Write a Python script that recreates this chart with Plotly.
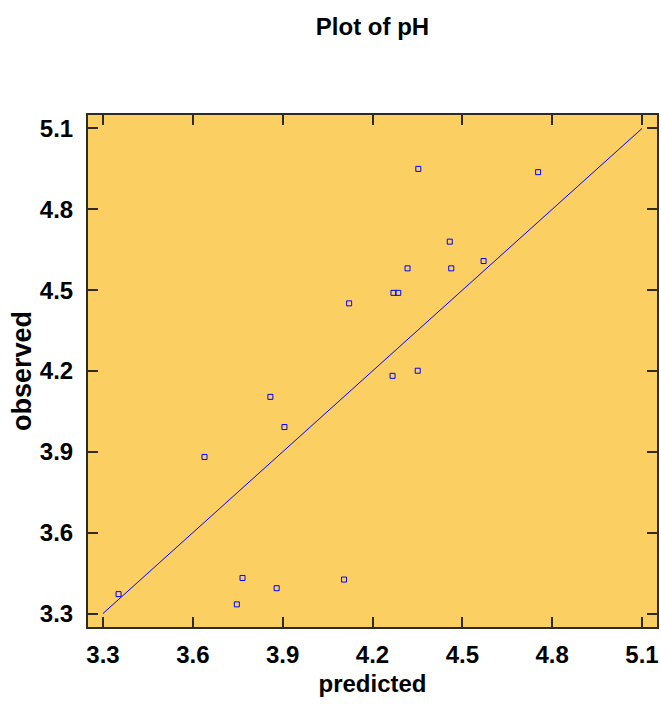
import plotly.graph_objects as go

# Observed vs predicted pH
predicted = [3.352, 3.639, 3.747, 3.766, 3.880, 3.859, 3.906, 4.105, 4.122,
             4.270, 4.286, 4.267, 4.317, 4.351, 4.353, 4.458, 4.463, 4.571, 4.753]
observed = [3.372, 3.881, 3.334, 3.432, 3.394, 4.104, 3.992, 3.426, 4.451,
            4.490, 4.490, 4.182, 4.581, 4.201, 4.950, 4.680, 4.581, 4.608, 4.938]

# reference line y = x
ref_x = [3.3, 5.1]
ref_y = [3.3, 5.1]

tick_vals = [3.3, 3.6, 3.9, 4.2, 4.5, 4.8, 5.1]
tick_text = ["3.3", "3.6", "3.9", "4.2", "4.5", "4.8", "5.1"]

FONT = "Liberation Sans, Arial, sans-serif"
AXIS_COLOR = "#2e2b22"

fig = go.Figure()
fig.add_trace(go.Scatter(
    x=ref_x, y=ref_y, mode="lines",
    line=dict(color="#0000ff", width=1),
    showlegend=False, hoverinfo="skip",
))
fig.add_trace(go.Scatter(
    x=predicted, y=observed, mode="markers",
    marker=dict(symbol="square-open", size=5, color="#0000ff",
                line=dict(width=1, color="#0000ff")),
    showlegend=False,
))

axis_common = dict(
    range=[3.25, 5.15],
    tickmode="array",
    tickvals=tick_vals,
    ticktext=tick_text,
    ticks="inside",
    ticklen=10,
    tickwidth=2,
    tickcolor=AXIS_COLOR,
    showline=True,
    linewidth=2,
    linecolor=AXIS_COLOR,
    mirror="ticks",
    showgrid=False,
    zeroline=False,
    tickfont=dict(family=FONT, size=24, color="#000000", weight="bold"),
)

fig.update_layout(
    width=661, height=704,
    margin=dict(l=88, r=2, t=115, b=77),
    paper_bgcolor="#ffffff",
    plot_bgcolor="#fbcf61",
    title=dict(
        text="Plot of pH",
        x=0.5, xref="paper", xanchor="center",
        y=1 - 27 / 704, yref="container", yanchor="middle",
        font=dict(family=FONT, size=24, color="#000000", weight="bold"),
    ),
    xaxis=dict(
        **axis_common,
        ticklabelstandoff=5,
        title=dict(text="predicted", standoff=8,
                   font=dict(family=FONT, size=24, color="#000000", weight="bold")),
    ),
    yaxis=dict(
        **axis_common,
        ticklabelstandoff=8,
        title=dict(text="observed", standoff=0,
                   font=dict(family=FONT, size=27, color="#000000", weight="bold")),
    ),
)

fig.write_html("out.html")
